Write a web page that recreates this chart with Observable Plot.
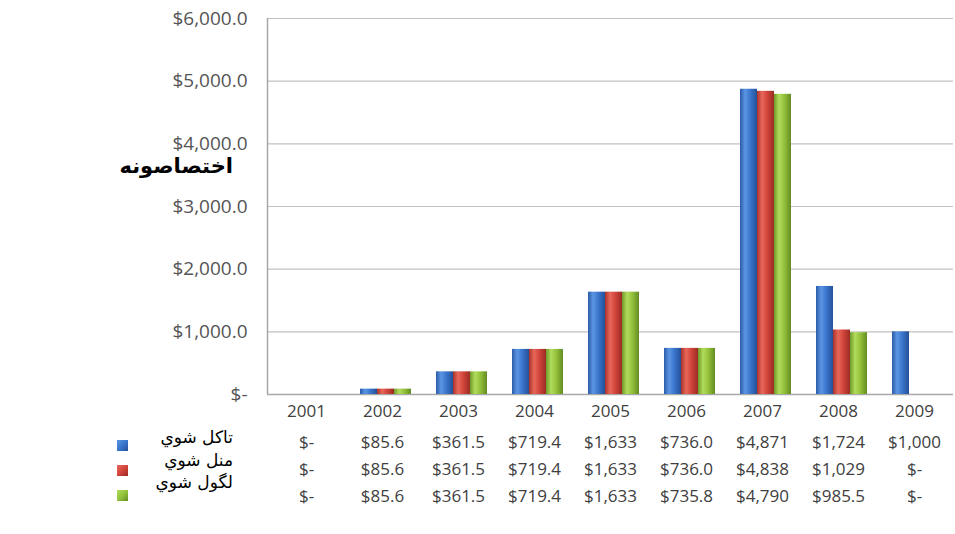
<!DOCTYPE html>
<html><head><meta charset="utf-8">
<script src="https://cdn.jsdelivr.net/npm/d3@7"></script>
<script src="https://cdn.jsdelivr.net/npm/@observablehq/plot@0.6"></script>
<style>
body{margin:0;background:#fff;}
#root{position:relative;width:955px;height:534px;overflow:hidden;font-family:"Open Sans",sans-serif;}
.layer{position:absolute;left:0;}
.ar{position:absolute;font-family:"DejaVu Sans",sans-serif;direction:rtl;white-space:nowrap;color:#000;line-height:20px;}
.sq{position:absolute;width:11px;height:11px;}
</style></head><body><div id="root"></div>
<script>
// ---- data ----
const years = ["2001","2002","2003","2004","2005","2006","2007","2008","2009"];
const seriesNames = ["تاکل شوي","منل شوي","لگول شوي"];
const allocated = [0, 85.6, 361.5, 719.4, 1633, 736.0, 4871, 1724, 1000];
const approved  = [0, 85.6, 361.5, 719.4, 1633, 736.0, 4838, 1029, 0];
const spent     = [0, 85.6, 361.5, 719.4, 1633, 735.8, 4790, 985.5, 0];
const yTicks = [0, 1000, 2000, 3000, 4000, 5000, 6000];
const titleText = "اختصاصونه";
const seriesColors = [
  ["#2a5ba8", "#5b95e4", "#3a76cc", "#24509a"],
  ["#a8322a", "#e8685c", "#d2443a", "#9a2c24"],
  ["#6f9a28", "#b2dc5c", "#94c23c", "#638c22"]
];

const seriesValues = [allocated, approved, spent];
const W = 955, ML = 267, MR = 2;
const root = document.getElementById("root");

const fmtY = v => v === 0 ? "$-" : "$" + d3.format(",.1f")(v);
const fmtT = v => v === 0 ? "$-" : v >= 1000 ? "$" + d3.format(",.0f")(v) : "$" + v.toFixed(1);

const rows = [];
seriesNames.forEach((s, i) => years.forEach((yr, j) => rows.push({year: yr, series: s, si: i, value: seriesValues[i][j]})));

function addGradients(svg) {
  const ns = "http://www.w3.org/2000/svg";
  const defs = document.createElementNS(ns, "defs");
  seriesColors.forEach((c, i) => {
    const g = document.createElementNS(ns, "linearGradient");
    g.setAttribute("id", "grad" + i);
    g.setAttribute("x1", "0"); g.setAttribute("x2", "1"); g.setAttribute("y1", "0"); g.setAttribute("y2", "0");
    [[0, c[0]], [0.3, c[1]], [0.6, c[2]], [1, c[3]]].forEach(([o, col]) => {
      const st = document.createElementNS(ns, "stop");
      st.setAttribute("offset", o); st.setAttribute("stop-color", col);
      g.appendChild(st);
    });
    defs.appendChild(g);
  });
  svg.insertBefore(defs, svg.firstChild);
}

// ---- background layer: grid, y axis, left axis line ----
const bg = Plot.plot({
  width: W, height: 430, marginLeft: ML, marginRight: MR, marginTop: 18, marginBottom: 36,
  style: {fontFamily: "Open Sans", fontSize: "19px", background: "transparent"},
  x: {domain: [0, 1], axis: null},
  y: {domain: [0, 6000], axis: null},
  marks: [
    Plot.ruleY(yTicks.filter(d => d > 0), {stroke: "#c2c2c2", strokeWidth: 1.2}),
    Plot.ruleY([0], {stroke: "#a8a8a8", strokeWidth: 1.5}),
    Plot.ruleX([0], {stroke: "#a8a8a8", strokeWidth: 1.5}),
    Plot.axisY(yTicks, {tickSize: 0, tickPadding: 20, tickFormat: fmtY, fill: "#555", fontSize: 19, label: null})
  ]
});
bg.classList.add("layer"); bg.style.top = "0px";
root.appendChild(bg);

// ---- bars layer ----
const bars = Plot.plot({
  width: W, height: 430, marginLeft: ML, marginRight: MR, marginTop: 18, marginBottom: 36,
  style: {fontFamily: "Open Sans", fontSize: "17px", background: "transparent"},
  fx: {domain: years, padding: 0, label: null},
  x: {domain: seriesNames, paddingInner: 0, paddingOuter: 0.7, axis: null},
  y: {domain: [0, 6000], axis: null},
  marks: [
    Plot.axisFx({anchor: "bottom", tickSize: 0, tickPadding: 10, fill: "#404040", fontSize: 17, label: null}),
    ...seriesNames.map((s, i) => Plot.barY(rows.filter(r => r.si === i && r.value > 0), {
      fx: "year", x: "series", y: "value", fill: `url(#grad${i})`, dx: 3
    }))
  ]
});
addGradients(bars);
bars.classList.add("layer"); bars.style.top = "0px";
root.appendChild(bars);

// ---- data table layer ----
const table = Plot.plot({
  width: W, height: 104, marginLeft: ML, marginRight: MR, marginTop: 0, marginBottom: 21,
  style: {fontFamily: "Open Sans", fontSize: "17px", background: "transparent"},
  fx: {domain: years, padding: 0, axis: null},
  y: {domain: seriesNames, padding: 0.5, axis: null},
  marks: [
    Plot.text(rows, {fx: "year", y: "series", text: d => fmtT(d.value), fill: "#404040", fontSize: 17})
  ]
});
table.classList.add("layer"); table.style.top = "427px";
root.appendChild(table);

// ---- legend / title (HTML) ----
const legendCenters = [437, 460, 482];
const squareCenters = [445, 470, 495];
seriesNames.forEach((s, i) => {
  const t = document.createElement("div");
  t.className = "ar"; t.textContent = s;
  t.style.right = (W - 233) + "px"; t.style.top = (legendCenters[i] - 10) + "px";
  t.style.fontSize = "17px";
  root.appendChild(t);
  const q = document.createElement("div");
  q.className = "sq";
  const c = seriesColors[i];
  q.style.left = "117px"; q.style.top = (squareCenters[i] - 5) + "px";
  q.style.background = `linear-gradient(135deg, ${c[1]}, ${c[2]} 50%, ${c[3]})`;
  root.appendChild(q);
});
const title = document.createElement("div");
title.className = "ar"; title.textContent = titleText;
title.style.right = (W - 233) + "px"; title.style.top = "157px";
title.style.fontSize = "21px"; title.style.fontWeight = "bold"; title.style.lineHeight = "18px";
root.appendChild(title);
</script></body></html>
